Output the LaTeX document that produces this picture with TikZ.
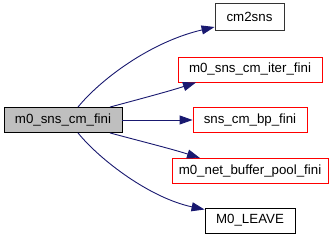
\documentclass[tikz,border=0pt]{standalone}
\usepackage{fontspec}
\setmainfont{Liberation Sans}
\usetikzlibrary{arrows.meta}
\definecolor{edgeblue}{HTML}{191970}
\definecolor{mainfill}{HTML}{BFBFBF}
\begin{document}
\begin{tikzpicture}[x=1pt,y=-1pt,
  fn/.style={draw=black,line width=0.9pt,fill=white,inner sep=0pt,
    minimum height=25pt,font=\fontsize{13.3}{16}\selectfont},
  fnred/.style={fn,draw=red},
  call/.style={draw=edgeblue,line width=0.9pt,
    -{Triangle[length=13pt,width=9pt]}}]
  \useasboundingbox (0,0) rectangle (335,240);

  % caller
  \node[fn,fill=mainfill,minimum width=118pt] (main) at (63,120) {m0\_sns\_cm\_fini};

  % callees
  \node[fn,draw=black!80,minimum width=69pt,minimum height=27pt] (cm2sns) at (249.5,17) {cm2sns};
  \node[fnred,minimum width=144pt] (iter) at (250,69.5) {m0\_sns\_cm\_iter\_fini};
  \node[fnred,minimum width=114pt] (bp) at (250,120) {sns\_cm\_bp\_fini};
  \node[fnred,minimum width=156pt] (pool) at (250,171) {m0\_net\_buffer\_pool\_fini};
  \node[fn,minimum width=90pt] (leave) at (250,220.5) {M0\_LEAVE};

  % call edges
  \draw[call] ([xshift=15pt]main.north) .. controls (100,80) and (150,42) .. ([yshift=-10pt]cm2sns.west);
  \draw[call] ([xshift=47pt]main.north) .. controls (140,99) and (170,91) .. ([xshift=-54pt]iter.south);
  \draw[call] (main.east) -- (bp.west);
  \draw[call] ([xshift=47pt]main.south) .. controls (140,141) and (172,149) .. ([xshift=-50pt]pool.north);
  \draw[call] ([xshift=15pt]main.south) .. controls (100,160) and (150,198) .. ([yshift=11pt]leave.west);
\end{tikzpicture}
\end{document}
